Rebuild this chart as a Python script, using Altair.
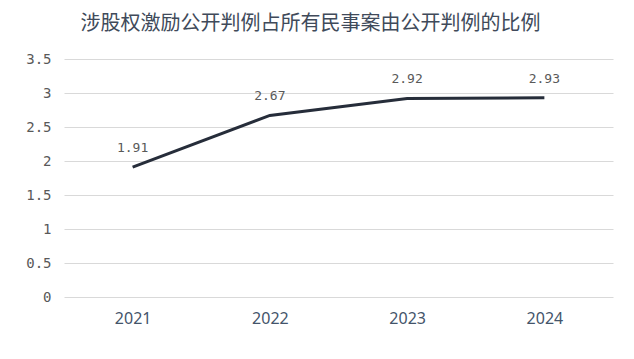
import altair as alt
import pandas as pd

years = ["2021", "2022", "2023", "2024"]
values = [1.91, 2.67, 2.92, 2.93]
labels = ["1.91", "2.67", "2.92", "2.93"]
y_ticks = [0, 0.5, 1, 1.5, 2, 2.5, 3, 3.5]

df = pd.DataFrame({"year": years, "value": values, "label": labels})

x = alt.X("year:N", sort=years, title=None,
          scale=alt.Scale(type="point", padding=0.5),
          axis=alt.Axis(labelAngle=0, ticks=False, domain=False, grid=False,
                        labelFontSize=16, labelColor="#44546a", labelPadding=13,
                        labelFont="Noto Sans"))
y = alt.Y("value:Q", title=None,
          scale=alt.Scale(domain=[0, 3.5], nice=False),
          axis=alt.Axis(values=y_ticks, ticks=False, domain=False,
                        gridColor="#d9d9d9", gridWidth=1,
                        labelFontSize=14, labelColor="#595959", labelPadding=13,
                        labelFont="DejaVu Sans Mono",
                        labelExpr="datum.value == 0 ? '0' : format(datum.value, '')"))

line = alt.Chart(df).mark_line(color="#262d3a", strokeWidth=3).encode(x=x, y=y)
text = alt.Chart(df).mark_text(dy=-19, fontSize=13, color="#595959",
                               font="DejaVu Sans Mono").encode(x=x, y=y, text="label:N")

chart = (line + text).properties(
    width=549, height=238,
    padding={"left": 56, "top": 51, "right": 13, "bottom": 30},
    autosize=alt.AutoSizeParams(type="none"),
    title=alt.TitleParams("涉股权激励公开判例占所有民事案由公开判例的比例",
                          font="Noto Sans CJK SC", fontSize=20, fontWeight="normal",
                          color="#404a5a", anchor="middle", dx=-28, offset=18),
).configure_view(stroke=None)

chart.save("out.html", embed_options={"renderer": "svg", "actions": False})
